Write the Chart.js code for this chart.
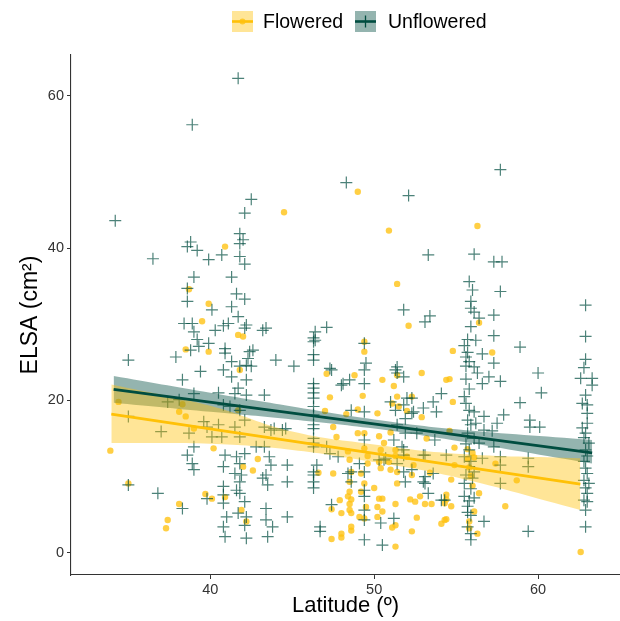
<!DOCTYPE html>
<html>
<head>
<meta charset="utf-8">
<script src="https://cdn.jsdelivr.net/npm/chart.js@4.4.1/dist/chart.umd.min.js"></script>
<style>
    html, body { margin: 0; padding: 0; background: #fff; }
    #elsa-container { width: 620px; height: 621px; }
</style>
</head>
<body>
<div id="elsa-container"><canvas id="elsa-chart" width="620" height="621"></canvas></div>
<script>
'use strict';

// Flowered plants: latitude / ELSA
const flowLat = [
    49.0, 44.5, 50.9, 51.4, 52.1, 56.3, 56.4, 40.9, 38.7, 39.9,
    39.5, 41.7, 42.0, 38.5, 39.9, 41.8, 38.3, 38.5, 39.0, 40.2,
    42.9, 42.0, 42.6, 39.7, 40.1, 40.9, 38.1, 41.9, 42.2, 37.4,
    37.3, 41.7, 34.4, 33.9, 35.0, 38.1, 49.4, 49.4, 47.1, 48.8,
    50.5, 52.9, 51.4, 51.2, 54.4, 47.3, 49.3, 51.4, 51.1, 51.5,
    52.3, 52.9, 53.2, 52.0, 50.2, 49.0, 47.0, 48.3, 47.5, 47.7,
    49.0, 49.4, 50.3, 51.0, 50.6, 49.4, 50.4, 48.4, 49.6, 51.3,
    51.3, 48.5, 49.6, 50.3, 50.9, 50.4, 51.0, 51.4, 52.0, 49.2,
    48.6, 47.5, 46.6, 49.4, 48.5, 48.5, 51.4, 50.0, 49.2, 48.4,
    48.6, 47.9, 50.3, 50.5, 52.2, 52.5, 52.8, 53.1, 53.5, 54.3,
    51.3, 48.5, 48.5, 49.5, 50.2, 50.5, 47.4, 48.0, 48.6, 50.2,
    49.1, 49.4, 48.6, 48.6, 51.1, 51.3, 52.6, 54.3, 54.1, 48.0,
    48.0, 47.4, 52.3, 51.3, 52.3, 53.4, 52.4, 54.8, 57.2, 54.6,
    54.8, 54.6, 54.9, 55.7, 56.0, 56.1, 55.7, 55.8, 57.4, 55.9,
    54.7, 58.7, 56.0, 56.4, 54.4, 54.4, 54.7, 58.0, 56.1, 54.4,
    55.8, 55.8, 56.3, 54.9, 62.6
];
const flowElsa = [
    47.4, 44.7, 42.3, 35.3, 29.8, 42.9, 30.2, 40.2, 34.6, 32.7,
    30.4, 28.6, 28.4, 26.7, 26.4, 24.0, 19.5, 17.9, 16.3, 13.7,
    12.3, 11.3, 10.8, 7.7, 7.1, 7.3, 6.4, 5.6, 4.1, 4.3,
    3.2, 18.7, 19.8, 13.4, 9.1, 18.5, 27.7, 26.4, 23.5, 23.3,
    22.7, 23.6, 23.3, 21.9, 22.7, 20.4, 20.6, 20.5, 19.6, 19.2,
    20.5, 17.8, 15.0, 18.6, 18.3, 18.8, 18.6, 18.2, 16.5, 15.2,
    15.7, 15.7, 15.3, 15.8, 14.4, 13.7, 13.5, 13.3, 12.7, 13.5,
    12.7, 12.2, 11.7, 11.9, 11.9, 11.1, 10.9, 10.6, 12.6, 10.4,
    10.6, 10.4, 10.5, 9.1, 9.3, 8.0, 9.1, 8.5, 8.0, 7.4,
    7.0, 6.9, 7.1, 7.1, 7.0, 6.7, 7.4, 6.4, 6.4, 6.5,
    6.4, 6.4, 5.6, 6.0, 6.0, 5.4, 5.7, 5.2, 5.2, 4.7,
    4.7, 4.5, 3.4, 2.9, 3.3, 3.6, 4.6, 4.3, 3.8, 2.5,
    2.0, 1.8, 2.8, 0.8, 10.2, 10.5, 11.5, 26.5, 26.3, 22.8,
    19.8, 16.0, 13.8, 13.6, 13.1, 12.5, 12.3, 11.2, 11.7, 10.1,
    9.6, 9.5, 8.8, 7.8, 7.6, 7.0, 6.1, 6.1, 5.4, 4.4,
    4.1, 3.2, 2.5, 11.5, 0.1
];

// Unflowered plants: latitude / ELSA
const unflLat = [
    41.7, 38.9, 34.2, 48.3, 52.1, 57.7, 42.5, 42.1, 36.5, 38.8,
    38.6, 39.2, 39.9, 40.7, 41.8, 42.0, 41.8, 41.8, 42.1, 39.0,
    41.3, 38.6, 41.6, 42.1, 38.6, 41.3, 40.1, 38.4, 38.9, 39.0,
    40.3, 40.8, 41.1, 41.7, 42.2, 42.1, 43.2, 43.4, 39.2, 39.3,
    38.8, 39.9, 37.9, 40.9, 40.9, 42.4, 42.3, 44.0, 41.3, 41.8,
    42.2, 42.5, 39.4, 40.8, 41.3, 42.2, 38.3, 41.7, 39.0, 40.5,
    41.5, 42.2, 43.3, 38.1, 37.4, 40.8, 41.2, 41.8, 37.0, 39.6,
    39.8, 40.5, 41.5, 42.1, 38.7, 40.1, 40.7, 41.8, 43.3, 43.9,
    44.6, 39.0, 42.8, 43.3, 38.6, 40.9, 41.6, 42.1, 43.6, 38.9,
    40.8, 41.8, 43.7, 44.7, 39.0, 41.5, 41.9, 43.4, 44.7, 43.2,
    41.8, 43.5, 40.8, 41.6, 41.8, 39.8, 40.8, 36.8, 42.1, 40.8,
    38.3, 43.4, 41.7, 42.2, 43.4, 41.0, 40.8, 42.1, 43.8, 40.9,
    42.2, 43.5, 35.0, 35.0, 35.0, 42.6, 45.1, 46.3, 46.3, 46.3,
    47.3, 49.5, 49.4, 48.1, 48.5, 49.4, 51.4, 51.4, 51.8, 46.3,
    46.3, 46.3, 46.3, 54.1, 53.6, 53.8, 51.0, 52.0, 51.8, 52.4,
    53.0, 49.4, 46.3, 46.3, 46.3, 46.3, 43.7, 44.4, 47.1, 47.3,
    47.8, 49.4, 51.2, 51.4, 51.8, 51.4, 50.7, 53.0, 54.4, 46.5,
    46.3, 46.3, 46.3, 48.6, 48.6, 49.4, 49.4, 51.8, 53.0, 53.3,
    54.1, 47.4, 44.7, 46.7, 46.7, 49.4, 49.4, 50.4, 50.5, 51.2,
    53.3, 51.8, 53.4, 53.1, 46.4, 47.1, 46.4, 49.4, 46.3, 47.4,
    48.0, 51.3, 46.3, 52.3, 51.3, 52.3, 51.9, 48.6, 46.3, 46.3,
    51.9, 52.6, 53.7, 51.7, 51.8, 50.6, 53.1, 46.3, 48.4, 49.1,
    50.3, 52.3, 51.9, 53.1, 53.1, 53.6, 49.4, 49.4,
    56.1, 57.3, 57.8, 55.8, 56.0, 57.7, 55.9, 56.1, 57.3, 56.4,
    55.9, 57.3, 56.2, 58.9, 55.7, 55.6, 55.8, 56.6, 57.3, 55.6,
    56.1, 56.3, 57.0, 56.6, 57.7, 60.0, 60.2, 58.9, 55.6, 55.8,
    56.1, 56.7, 57.9, 55.7, 56.2, 57.5, 59.5, 59.5, 60.1, 56.7,
    57.2, 55.7, 56.1, 56.4, 57.3, 55.8, 55.5, 56.6, 57.7, 59.4,
    55.8, 56.1, 57.7, 55.5, 55.9, 55.5, 56.1, 54.3, 55.7, 55.9,
    56.7, 55.7, 55.9, 59.4, 55.9, 57.7, 59.4, 55.6, 55.8, 55.5,
    55.9, 55.6, 55.9, 55.6, 56.0, 55.7, 55.5, 55.7, 55.9, 55.8,
    62.9, 62.9, 62.9, 62.8, 62.6, 63.3, 63.3, 62.9, 62.7, 63.0,
    63.0, 63.0, 62.7, 62.9, 62.8, 63.1, 62.9, 63.0, 62.8, 62.9,
    63.0, 62.8, 63.1, 62.9, 63.0, 62.8, 63.0, 62.9, 62.9
];
const unflElsa = [
    62.3, 56.2, 43.6, 48.6, 46.9, 50.3, 46.4, 44.6, 38.6, 40.8,
    40.2, 39.7, 38.5, 39.1, 41.9, 41.1, 40.6, 38.9, 37.9, 36.2,
    36.2, 34.7, 34.0, 33.3, 33.0, 32.3, 31.9, 30.1, 30.1, 29.0,
    29.2, 29.8, 30.1, 31.0, 29.9, 29.5, 29.2, 29.5, 28.0, 27.1,
    26.6, 27.5, 25.7, 26.8, 26.2, 26.4, 25.5, 25.3, 25.1, 24.5,
    24.6, 24.5, 23.8, 24.0, 23.1, 22.7, 22.7, 21.6, 20.9, 21.0,
    20.9, 20.7, 20.7, 20.1, 19.8, 19.4, 19.2, 18.7, 15.9, 17.2,
    16.5, 16.8, 16.5, 17.4, 15.7, 15.2, 15.2, 15.2, 16.5, 16.3,
    16.3, 13.9, 13.9, 13.9, 12.8, 12.8, 12.6, 13.0, 12.6, 11.7,
    11.3, 11.7, 11.5, 11.5, 10.9, 10.4, 10.2, 10.2, 9.3, 9.8,
    9.3, 8.9, 8.7, 8.2, 7.8, 7.1, 7.6, 7.8, 6.7, 6.5,
    5.8, 5.8, 5.2, 4.7, 4.3, 4.7, 3.4, 3.6, 3.4, 2.1,
    1.9, 2.1, 25.3, 17.9, 8.9, 26.6, 24.5, 27.7, 26.0, 25.3,
    24.2, 24.9, 24.0, 22.2, 22.7, 22.2, 24.4, 23.6, 23.1, 22.2,
    21.6, 20.3, 21.0, 20.9, 19.8, 18.5, 19.8, 20.3, 19.4, 18.5,
    19.0, 18.5, 18.1, 16.3, 15.0, 13.9, 16.1, 16.1, 13.9, 13.0,
    12.6, 14.8, 14.8, 16.8, 13.5, 11.7, 12.4, 12.8, 12.8, 11.5,
    10.2, 9.3, 8.5, 10.6, 9.3, 10.6, 7.4, 10.6, 9.3, 7.8,
    6.9, 6.3, 4.7, 3.4, 2.8, 5.6, 1.7, 3.9, 1.0, 4.5,
    39.1, 31.9, 31.1, 30.3, 29.0, 29.6, 27.9, 27.5, 28.2, 24.0,
    22.0, 24.0, 19.2, 20.3, 18.7, 18.3, 17.6, 18.7, 16.8, 14.4,
    15.7, 15.7, 14.8, 13.9, 12.8, 12.2, 12.8, 10.6, 10.4, 11.7,
    12.2, 10.9, 9.3, 10.0, 9.1, 10.4, 8.2, 4.3,
    39.2, 38.2, 38.2, 35.6, 34.5, 34.3, 32.1, 31.6, 31.2, 30.8,
    29.7, 28.5, 27.9, 27.0, 26.3, 25.7, 25.1, 26.1, 24.9, 24.5,
    24.4, 23.6, 23.1, 22.2, 22.5, 23.6, 21.0, 19.7, 19.6, 18.7,
    18.5, 17.9, 18.1, 17.4, 17.0, 17.0, 17.4, 16.5, 16.5, 16.1,
    16.0, 15.7, 15.0, 14.4, 13.9, 13.5, 12.6, 12.4, 12.6, 12.4,
    11.3, 10.6, 9.1, 9.1, 8.4, 7.4, 7.2, 6.9, 6.1, 4.9,
    4.1, 3.4, 2.5, 2.8, 1.7, 11.5, 11.3, 22.8, 21.5, 20.5,
    16.8, 14.3, 12.0, 10.2, 9.8, 5.3, 27.2, 28.0, 33.0, 6.8,
    32.5, 28.4, 25.4, 24.3, 22.9, 22.9, 22.0, 20.7, 19.6, 19.4,
    18.3, 17.0, 16.4, 15.7, 15.1, 14.4, 13.5, 12.7, 12.0, 11.1,
    10.4, 9.5, 9.1, 8.5, 7.8, 6.9, 6.7, 5.6, 3.4
];

// Linear fits with confidence bands
const flowFitLat = [33.96, 62.58];
const flowFitElsa = [18.2, 9.0];
const flowBandLat = [33.96, 40, 45, 50, 55, 62.58];
const flowBandHigh = [22.1, 19.3, 15.9, 14.2, 13.0, 12.4];
const flowBandLow = [14.4, 14.3, 13.5, 11.9, 9.9, 5.6];

const unflFitLat = [34.1, 63.3];
const unflFitElsa = [21.45, 13.1];
const unflBandLat = [34.1, 40, 45, 50, 55, 63.3];
const unflBandHigh = [23.2, 21.0, 19.2, 17.5, 16.2, 14.8];
const unflBandLow = [19.7, 18.5, 17.5, 16.3, 14.7, 11.7];

const xTicks = [40, 50, 60];
const yTicks = [0, 20, 40, 60];
const seriesLabels = ['Flowered', 'Unflowered'];

const YELLOW = '#FFC107';
const YELLOW_BAND = 'rgba(255, 193, 7, 0.42)';
const YELLOW_DOT = 'rgba(255, 193, 15, 0.78)';
const GREEN = '#004D40';
const GREEN_BAND = 'rgba(0, 77, 64, 0.42)';
const GREEN_CROSS = 'rgba(0, 77, 64, 0.7)';
const FONT = "'Liberation Sans', Arial, sans-serif";

function toPoints(xs, ys) {
    return xs.map((x, i) => ({x: x, y: ys[i]}));
}

function bandPair(xs, high, low, color) {
    return [
        {
            type: 'line', data: toPoints(xs, high), fill: '+1', backgroundColor: color,
            borderWidth: 0, pointRadius: 0, tension: 0.4, order: 2,
        },
        {
            type: 'line', data: toPoints(xs, low), fill: false,
            borderWidth: 0, pointRadius: 0, tension: 0.4, order: 2,
        },
    ];
}

// ggplot-like legend drawn above the panel
const keyLegend = {
    id: 'keyLegend',
    afterDraw(chart) {
        const ctx = chart.ctx;
        const items = [
            {x: 232, label: seriesLabels[0], band: YELLOW_BAND, line: YELLOW, text: 263},
            {x: 355, label: seriesLabels[1], band: GREEN_BAND, line: GREEN, text: 388},
        ];
        const top = 11, size = 21, mid = top + size / 2;
        ctx.save();
        items.forEach((it, i) => {
            ctx.fillStyle = it.band;
            ctx.fillRect(it.x, top, size, size);
            ctx.strokeStyle = it.line;
            ctx.lineWidth = 2.6;
            ctx.beginPath();
            ctx.moveTo(it.x, mid);
            ctx.lineTo(it.x + size, mid);
            ctx.stroke();
            const cx = it.x + size / 2;
            if (i === 0) {
                ctx.fillStyle = YELLOW_DOT;
                ctx.beginPath();
                ctx.arc(cx, mid, 3, 0, Math.PI * 2);
                ctx.fill();
            } else {
                ctx.strokeStyle = GREEN;
                ctx.lineWidth = 1.3;
                ctx.beginPath();
                ctx.moveTo(cx, mid - 6);
                ctx.lineTo(cx, mid + 6);
                ctx.stroke();
            }
            ctx.fillStyle = '#000';
            ctx.font = '19.5px ' + FONT;
            ctx.textBaseline = 'middle';
            ctx.textAlign = 'left';
            ctx.fillText(it.label, it.text, mid + 1);
        });
        ctx.restore();
    },
};

const ctx = document.getElementById('elsa-chart').getContext('2d');

window.elsaChart = new Chart(ctx, {
    type: 'scatter',
    data: {
        datasets: [
            {
                label: seriesLabels[0],
                data: toPoints(flowLat, flowElsa),
                pointStyle: 'circle',
                pointRadius: 3.2,
                pointBackgroundColor: YELLOW_DOT,
                pointBorderWidth: 0,
                order: 4,
            },
            {
                label: seriesLabels[1],
                data: toPoints(unflLat, unflElsa),
                pointStyle: 'cross',
                pointRadius: 6,
                pointBorderColor: GREEN_CROSS,
                pointBorderWidth: 1.2,
                order: 3,
            },
            ...bandPair(flowBandLat, flowBandHigh, flowBandLow, YELLOW_BAND),
            ...bandPair(unflBandLat, unflBandHigh, unflBandLow, GREEN_BAND),
            {
                type: 'line', data: toPoints(flowFitLat, flowFitElsa),
                borderColor: YELLOW, borderWidth: 2.8, pointRadius: 0, fill: false, order: 1,
            },
            {
                type: 'line', data: toPoints(unflFitLat, unflFitElsa),
                borderColor: GREEN, borderWidth: 2.8, pointRadius: 0, fill: false, order: 1,
            },
        ],
    },
    options: {
        responsive: false,
        animation: false,
        devicePixelRatio: 1,
        layout: {
            autoPadding: false,
            padding: {top: 55, left: 0, right: 0, bottom: 0},
        },
        plugins: {
            legend: {display: false},
            tooltip: {enabled: false},
        },
        scales: {
            x: {
                type: 'linear',
                min: 31.5,
                max: 65,
                afterBuildTicks: (scale) => { scale.ticks = xTicks.map(v => ({value: v})); },
                afterFit: (scale) => { scale.height = 46; },
                grid: {display: true, drawOnChartArea: false, tickLength: 4, color: '#333'},
                border: {display: true, color: '#333', width: 1.1},
                ticks: {color: '#333', font: {family: FONT, size: 14.5}, padding: 2, maxRotation: 0},
                title: {
                    display: true, text: 'Latitude (º)', color: '#000',
                    font: {family: FONT, size: 22}, padding: {top: 0, bottom: 2},
                },
            },
            y: {
                type: 'linear',
                min: -2.93,
                max: 65.36,
                afterBuildTicks: (scale) => { scale.ticks = yTicks.map(v => ({value: v})); },
                afterFit: (scale) => { scale.width = 71; },
                grid: {display: true, drawOnChartArea: false, tickLength: 4, color: '#333'},
                border: {display: true, color: '#333', width: 1.1},
                ticks: {color: '#333', font: {family: FONT, size: 14.5}, padding: 3},
                title: {
                    display: true, text: 'ELSA (cm²)', color: '#000',
                    font: {family: FONT, size: 23}, padding: {top: 17, bottom: 0},
                },
            },
        },
    },
    plugins: [keyLegend],
});
</script>
</body>
</html>
